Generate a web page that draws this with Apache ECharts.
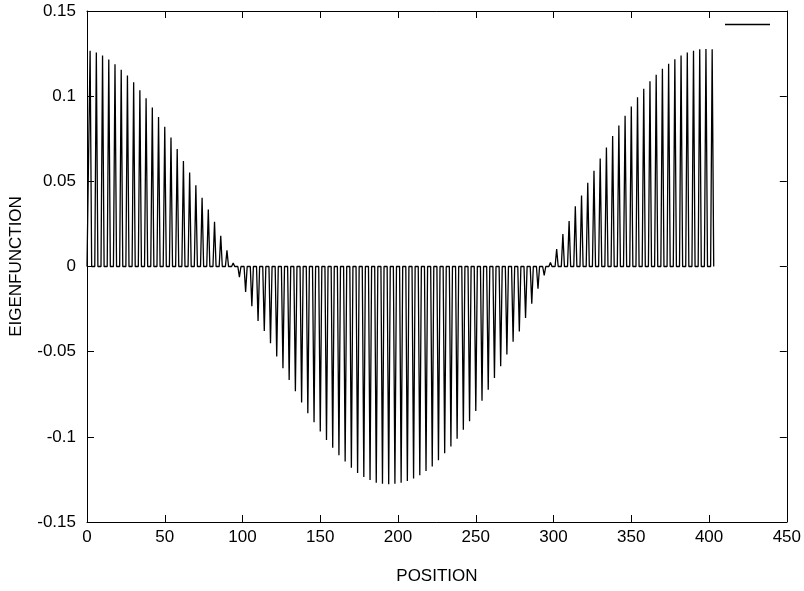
<!DOCTYPE html>
<html>
<head>
<meta charset="utf-8">
<script src="https://cdn.jsdelivr.net/npm/echarts@6/dist/echarts.min.js"></script>
<style>
    html, body { margin: 0; padding: 0; background: #fff; }
    #chart { width: 804px; height: 591px; }
</style>
</head>
<body>
<div id="chart"></div>
<script>

// peak value of every fourth site (sites 2, 6, 10, ... 402)
const peaks = [
    0.1267, 0.1256, 0.1238, 0.1215, 0.1188, 0.1155, 0.1122, 0.1081, 0.1035, 0.0988,
    0.0934, 0.0878, 0.0820, 0.0757, 0.0690, 0.0620, 0.0552, 0.0477, 0.0403, 0.0335,
    0.0262, 0.0180, 0.0095, 0.0020, -0.0062, -0.0149, -0.0233, -0.0320, -0.0378, -0.0451,
    -0.0529, -0.0597, -0.0667, -0.0733, -0.0798, -0.0862, -0.0915, -0.0969, -0.1019, -0.1064,
    -0.1108, -0.1145, -0.1182, -0.1213, -0.1236, -0.1254, -0.1269, -0.1275, -0.1279, -0.1275,
    -0.1269, -0.1260, -0.1244, -0.1226, -0.1201, -0.1174, -0.1137, -0.1097, -0.1056, -0.1011,
    -0.0959, -0.0909, -0.0848, -0.0788, -0.0723, -0.0655, -0.0586, -0.0516, -0.0442, -0.0381,
    -0.0302, -0.0218, -0.0131, -0.0052, 0.0024, 0.0103, 0.0190, 0.0267, 0.0353, 0.0417,
    0.0491, 0.0562, 0.0634, 0.0698, 0.0766, 0.0828, 0.0885, 0.0940, 0.0994, 0.1043,
    0.1087, 0.1126, 0.1161, 0.1190, 0.1217, 0.1238, 0.1256, 0.1267, 0.1275, 0.1277,
    0.1275
];

// within each group of four sites only the third one carries weight
const siteOffsets = [0, 1, 2, 3];
const lastSite = 403;

const xTicks = [0, 50, 100, 150, 200, 250, 300, 350, 400, 450];
const yTicks = [-0.15, -0.1, -0.05, 0, 0.05, 0.1, 0.15];

const lineData = [];
peaks.forEach((p, k) => {
    siteOffsets.forEach(o => {
        const site = 4 * k + o;
        if (site <= lastSite) lineData.push([site, o === 2 ? p : 0]);
    });
});

const font = 'Liberation Sans, Arial, Helvetica, sans-serif';
const fontSize = 17;

const chart = echarts.init(document.getElementById('chart'), null, { renderer: 'canvas' });

const tickInside = { show: true, inside: true, length: 7, lineStyle: { color: '#000', width: 1 } };
const frameLine = { show: true, onZero: false, lineStyle: { color: '#000', width: 1 } };

const option = {
    animation: false,
    backgroundColor: '#fff',
    grid: {
        left: 86,
        right: 16,
        top: 11,
        bottom: 69,
        show: false
    },
    legend: {
        left: 725,
        top: 23.5,
        padding: 0,
        icon: 'rect',
        itemWidth: 45,
        itemHeight: 1.5,
        itemGap: 0,
        textStyle: { fontSize: 2, color: '#fff' },
        data: [' ']
    },
    xAxis: [
        {
            type: 'value',
            min: xTicks[0],
            max: xTicks[xTicks.length - 1],
            interval: 50,
            name: 'POSITION',
            nameLocation: 'middle',
            nameGap: 46,
            nameTextStyle: { fontFamily: font, fontSize: fontSize, color: '#000' },
            axisLine: frameLine,
            axisTick: tickInside,
            axisLabel: { fontFamily: font, fontSize: fontSize, color: '#000', margin: 7 },
            splitLine: { show: false }
        },
        {
            type: 'value',
            position: 'top',
            min: xTicks[0],
            max: xTicks[xTicks.length - 1],
            interval: 50,
            axisLine: frameLine,
            axisTick: tickInside,
            axisLabel: { show: false },
            splitLine: { show: false }
        }
    ],
    yAxis: [
        {
            type: 'value',
            min: yTicks[0],
            max: yTicks[yTicks.length - 1],
            interval: 0.05,
            name: 'EIGENFUNCTION',
            nameLocation: 'middle',
            nameGap: 62,
            nameTextStyle: { fontFamily: font, fontSize: fontSize, color: '#000' },
            axisLine: frameLine,
            axisTick: tickInside,
            axisLabel: {
                fontFamily: font, fontSize: fontSize, color: '#000', margin: 11,
                formatter: v => String(+v.toFixed(2))
            },
            splitLine: { show: false }
        },
        {
            type: 'value',
            position: 'right',
            min: yTicks[0],
            max: yTicks[yTicks.length - 1],
            interval: 0.05,
            axisLine: frameLine,
            axisTick: tickInside,
            axisLabel: { show: false },
            splitLine: { show: false }
        }
    ],
    series: [
        {
            name: ' ',
            type: 'line',
            xAxisIndex: 0,
            yAxisIndex: 0,
            data: lineData,
            showSymbol: false,
            symbol: 'none',
            sampling: null,
            lineStyle: { color: '#000', width: 1.3 },
            itemStyle: { color: '#000' }
        }
    ]
};

option && chart.setOption(option);

</script>
</body>
</html>
